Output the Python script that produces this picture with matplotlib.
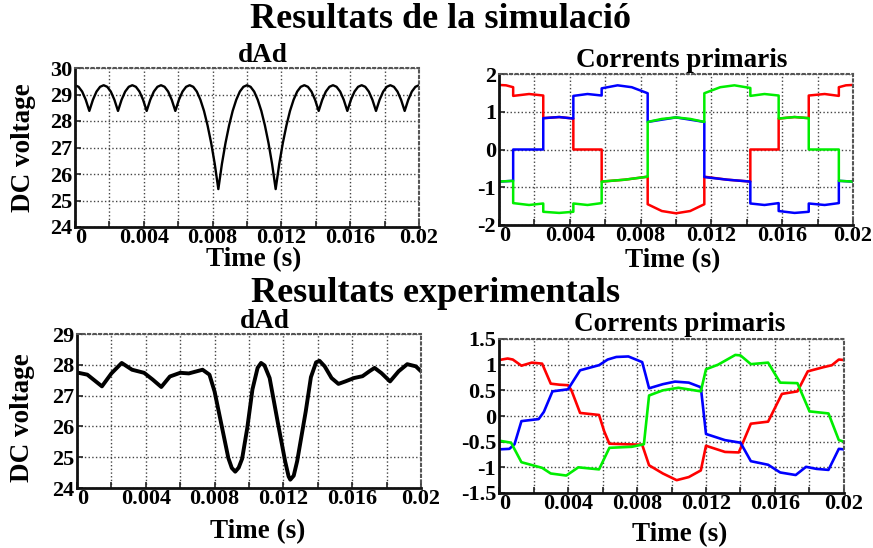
import numpy as np
import matplotlib
matplotlib.use("Agg")
import matplotlib.pyplot as plt

plt.rcParams['font.family'] = ['Liberation Serif', 'DejaVu Serif']
plt.rcParams['font.weight'] = 'bold'

# ---------------- data ----------------
# Simulated DC voltage, sampled every 0.02/96 s
t_vdc_sim = np.linspace(0.0, 0.02, 97)
vdc_sim = [
    29.35, 29.29, 29.11, 28.80, 28.38, 28.80, 29.11, 29.29,
    29.35, 29.29, 29.11, 28.80, 28.38, 28.80, 29.11, 29.29,
    29.35, 29.29, 29.11, 28.80, 28.38, 28.80, 29.11, 29.29,
    29.35, 29.29, 29.11, 28.80, 28.38, 28.80, 29.11, 29.29,
    29.35, 29.29, 29.11, 28.80, 28.38, 27.83, 27.17, 26.38,
    25.43, 26.38, 27.17, 27.83, 28.38, 28.80, 29.11, 29.29,
    29.35, 29.29, 29.11, 28.80, 28.38, 27.83, 27.17, 26.38,
    25.43, 26.38, 27.17, 27.83, 28.38, 28.80, 29.11, 29.29,
    29.35, 29.29, 29.11, 28.80, 28.38, 28.80, 29.11, 29.29,
    29.35, 29.29, 29.11, 28.80, 28.38, 28.80, 29.11, 29.29,
    29.35, 29.29, 29.11, 28.80, 28.38, 28.80, 29.11, 29.29,
    29.35, 29.29, 29.11, 28.80, 28.38, 28.80, 29.11, 29.29,
    29.35,
]

# Simulated primary currents (repeated times mark the switching steps)
t_ia_sim = [0, 0.0004, 0.0008, 0.0008, 0.0017, 0.0025, 0.0025, 0.0034, 0.0042,
            0.0042, 0.0058, 0.0058, 0.0071, 0.0084, 0.0084, 0.0092, 0.0100,
            0.0108, 0.0116, 0.0116, 0.0129, 0.0142, 0.0142, 0.0158, 0.0158,
            0.0167, 0.0175, 0.0175, 0.0184, 0.0192, 0.0192, 0.0196, 0.0200]
ia_sim = [1.71, 1.70, 1.65, 1.42, 1.47, 1.43, 0.83, 0.86, 0.82,
          0.0, 0.0, -0.85, -0.80, -0.72, -1.45, -1.63, -1.69,
          -1.63, -1.45, -0.72, -0.80, -0.85, 0.0, 0.0, 0.82,
          0.86, 0.83, 1.43, 1.47, 1.42, 1.65, 1.70, 1.71]

t_ib_sim = [0, 0.0008, 0.0008, 0.0025, 0.0025, 0.0034, 0.0042, 0.0042, 0.0050,
            0.0058, 0.0058, 0.0067, 0.0075, 0.0084, 0.0084, 0.0100, 0.0116,
            0.0116, 0.0129, 0.0142, 0.0142, 0.0150, 0.0158, 0.0158, 0.0167,
            0.0175, 0.0175, 0.0184, 0.0192, 0.0192, 0.0200]
ib_sim = [-0.85, -0.83, 0.0, 0.0, 0.83, 0.86, 0.82, 1.42, 1.47,
          1.43, 1.62, 1.70, 1.65, 1.49, 0.73, 0.85, 0.73,
          -0.73, -0.80, -0.85, -1.43, -1.47, -1.42, -1.63, -1.68,
          -1.65, -1.43, -1.47, -1.42, -0.83, -0.85]

t_ic_sim = [0, 0.0008, 0.0008, 0.0017, 0.0025, 0.0025, 0.0034, 0.0042, 0.0042,
            0.0050, 0.0058, 0.0058, 0.0071, 0.0084, 0.0084, 0.0092, 0.0100,
            0.0108, 0.0116, 0.0116, 0.0125, 0.0133, 0.0142, 0.0142, 0.0150,
            0.0158, 0.0158, 0.0167, 0.0175, 0.0175, 0.0192, 0.0192, 0.0200]
ic_sim = [-0.85, -0.83, -1.42, -1.47, -1.43, -1.65, -1.68, -1.65, -1.43,
          -1.47, -1.42, -0.85, -0.80, -0.72, 0.73, 0.81, 0.85,
          0.81, 0.73, 1.49, 1.65, 1.70, 1.63, 1.42, 1.47,
          1.43, 0.82, 0.86, 0.83, 0.0, 0.0, -0.83, -0.85]

# Measured DC voltage
t_vdc_exp = [0, 0.0006, 0.00145, 0.0020, 0.0026, 0.0032, 0.0039, 0.0044, 0.0049,
             0.0054, 0.0060, 0.0065, 0.0073, 0.0077, 0.0080, 0.0084, 0.0088,
             0.0090, 0.0092, 0.0094, 0.0096, 0.0099, 0.0102, 0.0105, 0.0107,
             0.0109, 0.0112, 0.0117, 0.0121, 0.0123, 0.0124, 0.0126, 0.0128,
             0.0133, 0.0136, 0.0139, 0.0141, 0.0144, 0.0148, 0.0152, 0.0156,
             0.0161, 0.0166, 0.0170, 0.0173, 0.0177, 0.0182, 0.0187, 0.0192,
             0.0197, 0.0200]
vdc_exp = [27.75, 27.68, 27.30, 27.72, 28.06, 27.84, 27.74, 27.52, 27.28,
           27.62, 27.74, 27.72, 27.84, 27.68, 27.13, 26.05, 24.97,
           24.65, 24.53, 24.66, 24.95, 25.95, 27.20, 27.90, 28.06,
           27.98, 27.57, 26.05, 24.87, 24.38, 24.27, 24.40, 24.87,
           26.49, 27.60, 28.08, 28.13, 27.95, 27.57, 27.38, 27.46,
           27.57, 27.63, 27.79, 27.90, 27.73, 27.46, 27.79, 28.02,
           27.95, 27.79]

# Measured primary currents
t_ia_exp = [0, 0.0005, 0.0008, 0.0013, 0.0019, 0.0025, 0.0030, 0.0035, 0.0040,
            0.0042, 0.0047, 0.0058, 0.0061, 0.0064, 0.0083, 0.0087, 0.0095,
            0.0103, 0.0110, 0.0117, 0.0120, 0.0131, 0.0139, 0.0146, 0.0156,
            0.0164, 0.0173, 0.0179, 0.0188, 0.0193, 0.0197, 0.0200]
ia_exp = [1.09, 1.12, 1.10, 0.98, 1.04, 1.02, 0.63, 0.61, 0.60,
          0.50, 0.06, 0.02, -0.30, -0.54, -0.56, -0.96, -1.12,
          -1.25, -1.19, -1.06, -0.58, -0.70, -0.71, -0.15, -0.11,
          0.43, 0.48, 0.87, 0.95, 0.99, 1.10, 1.09]

t_ib_exp = [0, 0.0006, 0.0009, 0.0013, 0.0023, 0.0026, 0.0031, 0.0040, 0.0047,
            0.0058, 0.0063, 0.0068, 0.0075, 0.0083, 0.0085, 0.0087, 0.0095,
            0.0102, 0.0110, 0.0117, 0.0120, 0.0131, 0.0140, 0.0146, 0.0156,
            0.0163, 0.0172, 0.0178, 0.0184, 0.0191, 0.0197, 0.0200]
ib_exp = [-0.65, -0.64, -0.55, -0.10, -0.06, 0.08, 0.48, 0.52, 0.89,
          0.99, 1.10, 1.15, 1.16, 1.05, 0.80, 0.54, 0.62,
          0.67, 0.65, 0.56, -0.35, -0.47, -0.52, -0.88, -0.95,
          -1.10, -1.15, -0.99, -1.03, -1.05, -0.64, -0.65]

t_ic_exp = [0, 0.0007, 0.0013, 0.0025, 0.0030, 0.0039, 0.0046, 0.0058, 0.0064,
            0.0077, 0.0084, 0.0087, 0.0095, 0.0104, 0.0117, 0.0120, 0.0127,
            0.0137, 0.0140, 0.0146, 0.0156, 0.0163, 0.0173, 0.0180, 0.0191,
            0.0197, 0.0200]
ic_exp = [-0.48, -0.52, -0.90, -1.01, -1.12, -1.16, -1.00, -1.04, -0.62,
          -0.60, -0.55, 0.40, 0.50, 0.55, 0.48, 0.91, 1.00,
          1.19, 1.18, 1.01, 1.04, 0.65, 0.64, 0.09, 0.05,
          -0.47, -0.50]

x_ticks = [0, 0.002, 0.004, 0.006, 0.008, 0.010, 0.012, 0.014, 0.016, 0.018, 0.020]
x_tick_labels = ['0', '', '0.004', '', '0.008', '', '0.012', '', '0.016', '', '0.02']

y_ticks_vsim = [24, 25, 26, 27, 28, 29, 30]
y_ticks_isim = [-2, -1, 0, 1, 2]
y_ticks_vexp = [24, 25, 26, 27, 28, 29]
y_ticks_iexp = [-1.5, -1, -0.5, 0, 0.5, 1, 1.5]
y_labels_iexp = ['-1.5', '-1', '-0.5', '0', '0.5', '1', '1.5']

# ---------------- figure ----------------
W, H = 873, 548
fig = plt.figure(figsize=(W / 100, H / 100), dpi=100)


def px_axes(left, top, right, bottom):
    return fig.add_axes([left / W, 1 - bottom / H, (right - left) / W, (bottom - top) / H])


TICK_FS = 16
LABEL_FS = 19.5
TITLE_FS = 19.5
SUP_FS = 26


def style(ax, yticks, ylabels=None):
    ax.set_xlim(0, 0.02)
    ax.set_ylim(yticks[0], yticks[-1])
    ax.set_xticks(x_ticks)
    ax.set_xticklabels(x_tick_labels)
    ax.set_yticks(yticks)
    if ylabels is not None:
        ax.set_yticklabels(ylabels)
    else:
        ax.set_yticklabels([f"{v:g}" for v in yticks])
    ax.tick_params(direction='in', length=4, width=1.2, labelsize=TICK_FS,
                   pad=2, color='#222222')
    ax.tick_params(axis='x', pad=1)
    for lab in ax.get_xticklabels() + ax.get_yticklabels():
        lab.set_fontweight('bold')
    # the zero label sits just inside the left edge
    ax.get_xticklabels()[0].set_horizontalalignment('left')
    ax.grid(True, linestyle=':', color='#444444', linewidth=1.0)
    ax.set_axisbelow(True)
    for side in ('left', 'bottom'):
        ax.spines[side].set_linewidth(2.0)
        ax.spines[side].set_color('#111111')
    for side in ('top', 'right'):
        ax.spines[side].set_linewidth(1.5)
        ax.spines[side].set_color('#555555')
        ax.spines[side].set_linestyle(':')


def place_xlabel(ax, x, y):
    ax.set_xlabel('Time (s)', fontsize=LABEL_FS, fontweight='bold')
    ax.xaxis.set_label_coords(x, y)
    ax.xaxis.label.set_va('center')


def place_ylabel(ax, x, y):
    ax.set_ylabel('DC voltage', fontsize=LABEL_FS, fontweight='bold')
    ax.yaxis.set_label_coords(x, y)
    ax.yaxis.label.set_va('center')
    ax.yaxis.label.set_ha('center')


# Top left: simulated DC voltage
ax1 = px_axes(75, 68, 419, 227)
ax1.plot(t_vdc_sim, vdc_sim, color='black', linewidth=1.7)
style(ax1, y_ticks_vsim)
ax1.set_title('dAd', fontsize=TITLE_FS, fontweight='bold', x=0.547, pad=3)
place_ylabel(ax1, -0.151, 0.5)
place_xlabel(ax1, 0.52, -0.205)

# Top right: simulated currents
ax2 = px_axes(499, 74, 853, 225)
ax2.plot(t_ia_sim, ia_sim, color='#ff0000', linewidth=1.8)
ax2.plot(t_ib_sim, ib_sim, color='#0000ff', linewidth=1.8)
ax2.plot(t_ic_sim, ic_sim, color='#00ee00', linewidth=1.8)
style(ax2, y_ticks_isim)
ax2.set_title('Corrents primaris', fontsize=TITLE_FS, fontweight='bold', x=0.517, pad=5)
place_xlabel(ax2, 0.49, -0.235)

# Bottom left: measured DC voltage
ax3 = px_axes(77, 334, 421, 488)
ax3.plot(t_vdc_exp, vdc_exp, color='black', linewidth=2.8, solid_joinstyle='round')
style(ax3, y_ticks_vexp)
ax3.set_title('dAd', fontsize=TITLE_FS, fontweight='bold', x=0.547, pad=2)
place_ylabel(ax3, -0.157, 0.46)
place_xlabel(ax3, 0.526, -0.286)

# Bottom right: measured currents
ax4 = px_axes(499, 339, 844, 493)
ax4.plot(t_ia_exp, ia_exp, color='#ff0000', linewidth=1.9)
ax4.plot(t_ib_exp, ib_exp, color='#0000ff', linewidth=1.9)
ax4.plot(t_ic_exp, ic_exp, color='#00ee00', linewidth=1.9)
style(ax4, y_ticks_iexp, y_labels_iexp)
ax4.set_title('Corrents primaris', fontsize=TITLE_FS, fontweight='bold', x=0.525, pad=6)
place_xlabel(ax4, 0.525, -0.27)

fig.text(440 / W, 1 - 19 / H, 'Resultats de la simulació', fontsize=SUP_FS,
         fontweight='bold', ha='center', va='center')
fig.text(436 / W, 1 - 293 / H, 'Resultats experimentals', fontsize=SUP_FS,
         fontweight='bold', ha='center', va='center')

fig.savefig('out.png', dpi=100)
